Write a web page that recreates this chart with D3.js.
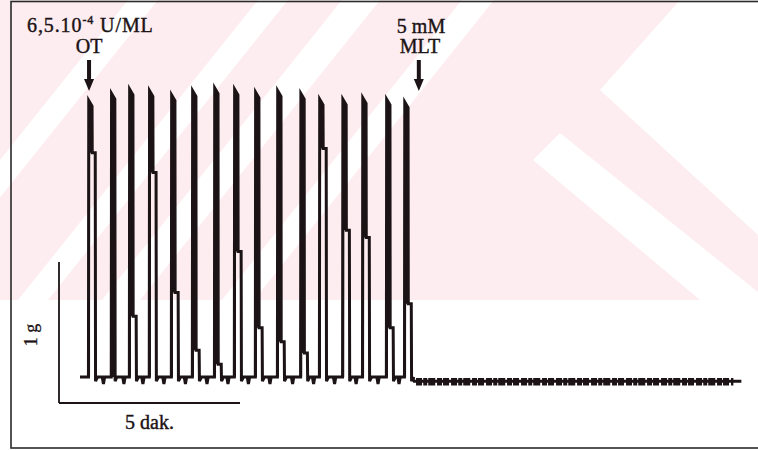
<!DOCTYPE html>
<html><head><meta charset="utf-8">
<script src="https://cdn.jsdelivr.net/npm/d3@7"></script>
<style>body{margin:0;background:#fff}svg{display:block}</style>
</head><body><svg id="c" width="758" height="450"></svg>
<script>
// ---- data (time in minutes, force in g) ----
const peakTime = [0.83, 1.46, 1.96, 2.51, 3.12, 3.70, 4.31, 4.86, 5.44, 6.05, 6.69, 7.21, 7.85, 8.40, 9.06, 9.56];
const peakAmp  = [1.96, 2.01, 2.04, 2.03, 2.00, 2.03, 2.05, 2.04, 2.02, 2.03, 2.01, 1.97, 1.97, 1.98, 1.97, 1.95];
const shoulderAmp = [1.59, 0.00, 0.43, 1.45, 0.60, 0.19, 0.09, 0.89, 0.35, 0.25, 0.17, 1.62, 1.04, 0.99, 0.35, 0.52];
const traceStart = 0.58;
const restTime = [9.78, 18.85];   // flat trace after melatonin
const restLevel = -0.03;
const otTime = 0.83, mltTime = 9.94;
const scaleBarMin = 5, scaleBarG = 1;
const labels = {ot1: "6,5.10", otExp: "-4", ot2: " U/ML", ot3: "OT", mlt1: "5 mM", mlt2: "MLT", time: "5 dak.", force: "1 g"};

const svg = d3.select("#c");
const ink = "#1b1315";
const x = d3.scaleLinear().domain([0, 5]).range([59, 240]);
const y = d3.scaleLinear().domain([0, 1]).range([377, 236]);

// ---- watermark (decorative) ----
const wm = svg.append("g");
wm.append("rect").attr("x",0).attr("y",0).attr("width",758).attr("height",300).attr("fill","#fdedf0");
const k = 0.8;
[[128,30],[258,30],[342,38],[462,32]].forEach(([x0,w])=>{
  wm.append("polygon").attr("fill","#fff")
    .attr("points",[[x0,0],[x0+w,0],[x0+w-300*k,300],[x0-300*k,300]].map(p=>p.join(",")).join(" "));
});
wm.append("polygon").attr("fill","#fff").attr("points","680,0 758,0 758,235 600,90");
wm.append("polygon").attr("fill","#fff").attr("points","560,133 758,292 758,300 700,300 533,160");

// ---- frame ----
svg.append("rect").attr("x",11).attr("y",1.5).attr("width",800).attr("height",446.5)
  .attr("fill","none").attr("stroke","#2a2a2a").attr("stroke-width",1.6);

// ---- trace ----
const line = d3.line().curve(d3.curveLinear);
const pts = [[x(traceStart), y(0)]];
peakTime.forEach((t,i)=>{
  const px = x(t);
  pts.push([px-0.6, y(0)]);
  pts.push([px-0.3, y(peakAmp[i])]);
  pts.push([px+3, y(peakAmp[i]-0.04)]);
  if (shoulderAmp[i] > 0) {
    pts.push([px+3.2, y(shoulderAmp[i])]);
    pts.push([px+6.2, y(shoulderAmp[i])]);
    pts.push([px+6.5, y(-0.03)]);
    pts.push([px+8.5, y(0)]);
  } else {
    pts.push([px+3.3, y(-0.03)]);
    pts.push([px+5, y(0)]);
  }
  const next = i < peakTime.length-1 ? x(peakTime[i+1]) : null;
  if (next) {
    const mid = (px + next)/2 + 3;
    pts.push([mid-1.2, y(0)]);
    pts.push([mid, y(-0.05)]);
    pts.push([mid+1.2, y(0)]);
  }
});
pts.push([x(restTime[0]), y(restLevel)]);

// solid ink between the rising and the falling stroke of each contraction
peakTime.forEach((t,i)=>{
  const px = x(t);
  const low = shoulderAmp[i] > 0 ? shoulderAmp[i] : 0;
  svg.append("path").attr("fill",ink)
    .attr("d", line([[px-0.3,y(0)],[px-0.3,y(peakAmp[i])],[px+3,y(peakAmp[i]-0.04)],[px+3.2,y(low)],[px+1,y(low)],[px+1,y(0)]]) + "Z");
});
svg.append("path").attr("d", line(pts)).attr("fill","none").attr("stroke",ink)
  .attr("stroke-width",3).attr("stroke-linejoin","miter");

// post-melatonin flat, noisy trace
svg.append("line").attr("x1",x(restTime[0])).attr("x2",x(restTime[1]))
  .attr("y1",y(restLevel)).attr("y2",y(restLevel)).attr("stroke",ink).attr("stroke-width",3);
svg.append("line").attr("x1",x(restTime[0])+3).attr("x2",x(restTime[1])-8)
  .attr("y1",y(restLevel)+0.5).attr("y2",y(restLevel)+0.5).attr("stroke",ink).attr("stroke-width",7.5)
  .attr("stroke-dasharray","6 1.2 4 1 7 1.8 5 1 6 2");

// ---- scale bars ----
svg.append("line").attr("x1",x(0)).attr("x2",x(0)).attr("y1",y(0)+26).attr("y2",y(0)+26-(y(0)-y(scaleBarG)))
  .attr("stroke",ink).attr("stroke-width",1.8);
svg.append("line").attr("x1",x(0)).attr("x2",x(scaleBarMin)).attr("y1",y(0)+26).attr("y2",y(0)+26)
  .attr("stroke",ink).attr("stroke-width",1.8);

// ---- text ----
const font = "'Liberation Serif', 'Times New Roman', serif";
function txt(xp, yp, s, anchor){
  return svg.append("text").attr("x",xp).attr("y",yp).attr("text-anchor",anchor||"middle")
    .attr("font-family",font).attr("font-size",20).attr("fill",ink)
    .attr("stroke",ink).attr("stroke-width",0.4).text(s);
}
const t1 = svg.append("text").attr("x",27).attr("y",32).attr("font-family",font).attr("font-size",20)
  .attr("letter-spacing",0.9).attr("fill",ink).attr("stroke",ink).attr("stroke-width",0.4);
t1.append("tspan").text(labels.ot1);
t1.append("tspan").attr("font-size",12).attr("dy",-8).text(labels.otExp);
t1.append("tspan").attr("dy",8).text(labels.ot2);
txt(x(otTime), 53, labels.ot3);
txt(421, 33, labels.mlt1);
txt(420, 53, labels.mlt2);
txt((x(0)+x(scaleBarMin))/2, 429, labels.time);
svg.append("text").attr("transform",`translate(37,335) rotate(-90)`)
  .attr("text-anchor","middle").attr("font-family",font).attr("font-size",18).attr("fill",ink)
  .attr("stroke",ink).attr("stroke-width",0.3).text(labels.force);

// ---- arrows ----
function arrow(t){
  const cx = x(t);
  svg.append("path").attr("fill",ink)
    .attr("d",`M${cx-2},60 L${cx+2},60 L${cx+2},79 L${cx+5},79 L${cx},91 L${cx-5},79 L${cx-2},79 Z`);
}
arrow(otTime); arrow(mltTime);
</script></body></html>
